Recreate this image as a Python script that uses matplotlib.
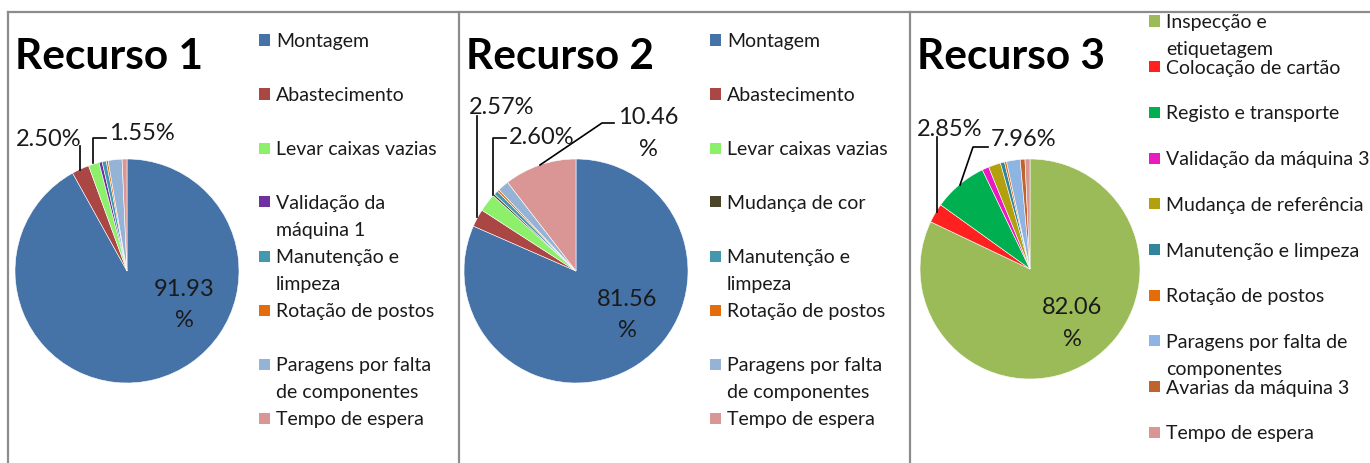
import matplotlib
matplotlib.use('Agg')
import matplotlib.pyplot as plt
from matplotlib.patches import Rectangle
from matplotlib.lines import Line2D

plt.rcParams['font.family'] = ['Lato', 'DejaVu Sans']

W, H = 1370, 463

# --- data ---
labels1 = ['Montagem', 'Abastecimento', 'Levar caixas vazias', 'Validação da\nmáquina 1',
           'Manutenção e\nlimpeza', 'Rotação de postos', 'Paragens por falta\nde componentes',
           'Tempo de espera']
values1 = [91.93, 2.50, 1.55, 0.45, 0.60, 0.27, 2.00, 0.70]
colors1 = ['#4572A7', '#AA4643', '#8CF06A', '#7030A0', '#4198AF', '#E46C0A', '#95B3D7', '#D99694']

labels2 = ['Montagem', 'Abastecimento', 'Levar caixas vazias', 'Mudança de cor',
           'Manutenção e\nlimpeza', 'Rotação de postos', 'Paragens por falta\nde componentes',
           'Tempo de espera']
values2 = [81.56, 2.57, 2.60, 0.30, 0.60, 0.30, 1.61, 10.46]
colors2 = ['#4572A7', '#AA4643', '#8CF06A', '#4A452A', '#4198AF', '#E46C0A', '#95B3D7', '#D99694']

labels3 = ['Inspecção e\netiquetagem', 'Colocação de cartão', 'Registo e transporte',
           'Validação da máquina 3', 'Mudança de referência', 'Manutenção e limpeza',
           'Rotação de postos', 'Paragens por falta de\ncomponentes', 'Avarias da máquina 3',
           'Tempo de espera']
values3 = [82.06, 2.85, 7.96, 1.00, 1.80, 0.60, 0.30, 2.00, 0.70, 0.73]
colors3 = ['#9BBB59', '#FF2020', '#00B050', '#E81AC0', '#B3A00F', '#31859C', '#E46C0A',
           '#8DB4E2', '#C0642E', '#D99694']

titles = ['Recurso 1', 'Recurso 2', 'Recurso 3']

# outer labels shown for each pie: (slice index, text pos px, leader points px)
outer1 = [(1, (49, 137), [(80, 146), (80, 170)]),
          (2, (142, 131), [(106, 138), (93, 138), (93, 163)])]
outer2 = [(1, (502, 106), [(477, 116), (477, 217)]),
          (2, (542, 135), [(506, 138), (493, 138), (493, 195)]),
          (7, (648, 116), [(614, 123), (602, 123), (540, 165)])]
outer3 = [(1, (950, 127), [(937, 137), (937, 212)]),
          (2, (1024, 138), [(988, 147), (973, 147), (960, 185)])]
inner_pos = [(184, 287), (627, 297), (1072, 306)]

pies = [
    (values1, colors1, labels1, (127, 271, 112), outer1, (259, 40, 54)),
    (values2, colors2, labels2, (576, 271, 112), outer2, (710, 40, 54)),
    (values3, colors3, labels3, (1030, 269, 110), outer3, (1149, 21, 45.7)),
]

fig = plt.figure(figsize=(W / 100, H / 100), dpi=100)
fig.patch.set_facecolor('white')


def fx(px):
    return px / W


def fy(py):
    return 1 - py / H


def put(x, y, s, step, size, ha='center'):
    # one text per line, so line spacing is set in pixels
    for j, line in enumerate(s.split('\n')):
        fig.text(fx(x), fy(y + j * step), line, ha=ha, va='center_baseline',
                 fontsize=size, color='#1a1a1a')


for k, (vals, cols, labs, (cx, cy, r), outer, (lx, ly0, dy)) in enumerate(pies):
    ax = fig.add_axes([fx(cx - r), fy(cy + r), 2 * r / W, 2 * r / H])
    ax.pie(vals, colors=cols, startangle=90, counterclock=False,
           wedgeprops=dict(edgecolor='white', linewidth=0.4))
    ax.set_xlim(-1, 1)
    ax.set_ylim(-1, 1)
    ax.set_aspect('equal')
    ax.axis('off')

    # big percentage inside
    ix, iy = inner_pos[k]
    put(ix, iy, '%.2f\n%%' % vals[0], 31.5, 17)

    for idx, (tx, ty), pts in outer:
        s = '%.2f%%' % vals[idx] if vals[idx] < 10 else '%.2f\n%%' % vals[idx]
        put(tx, ty, s, 32, 17)
        xs = [(p[0] - cx) / r for p in pts]
        ys = [(cy - p[1]) / r for p in pts]
        ax.add_line(Line2D(xs, ys, color='black', lw=1.2, clip_on=False))

    # legend
    for i, (lab, c) in enumerate(zip(labs, cols)):
        y = ly0 + i * dy
        fig.patches.append(Rectangle((fx(lx), fy(y + 5.5)), 11 / W, 11 / H,
                                     transform=fig.transFigure, facecolor=c, edgecolor='none'))
        put(lx + 17, y, lab, 27, 14, ha='left')

    fig.text(fx(15 + k * 451), fy(57), titles[k], ha='left', va='center',
             fontsize=30.5, fontweight='bold', color='black')

# frame lines
for seg in [((8, 1370), (12, 12)), ((8, 8), (12, 463)), ((459, 459), (12, 463)), ((910, 910), (12, 463))]:
    fig.lines.append(Line2D([fx(seg[0][0]), fx(seg[0][1])], [fy(seg[1][0]), fy(seg[1][1])],
                            transform=fig.transFigure, color='#8c8c8c', lw=1.6))

fig.savefig('out.png', dpi=100)
